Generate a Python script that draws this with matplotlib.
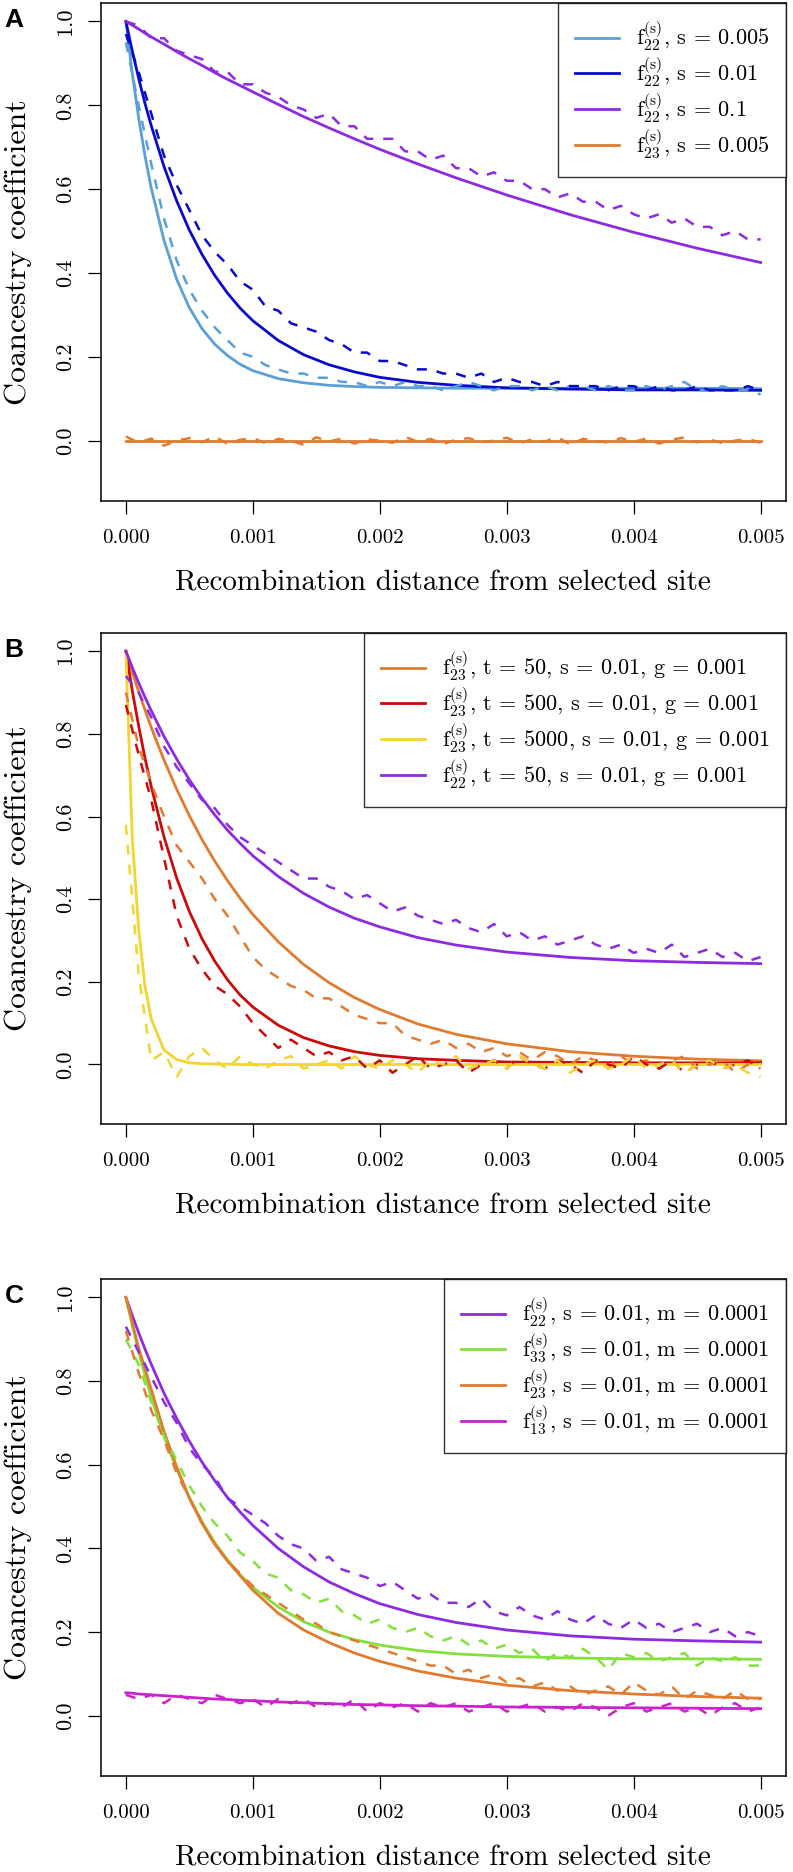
# Coancestry coefficient vs recombination distance, three stacked panels (A, B, C).
# Solid lines: theory, dashed lines: simulations.

import matplotlib
matplotlib.use("Agg")
import matplotlib.pyplot as plt

plt.rcParams['font.family'] = 'serif'
plt.rcParams['font.serif'] = ['cmr10']
plt.rcParams['mathtext.fontset'] = 'cm'
plt.rcParams['axes.formatter.use_mathtext'] = True

# x grid of the theory curves
x_fit = [0.0, 0.00005, 0.0001, 0.00015, 0.0002, 0.0003, 0.0004, 0.0005, 0.0006,
         0.0007, 0.0008, 0.0009, 0.001, 0.0012, 0.0014, 0.0016, 0.0018, 0.002,
         0.0023, 0.0026, 0.003, 0.0035, 0.004, 0.0045, 0.005]

# x grid of the simulation curves
x_sim = [0.0, 0.0001, 0.0002, 0.0003, 0.0004, 0.0005, 0.0006, 0.0007, 0.0008, 0.0009,
         0.001, 0.0011, 0.0012, 0.0013, 0.0014, 0.0015, 0.0016, 0.0017, 0.0018, 0.0019,
         0.002, 0.0021, 0.0022, 0.0023, 0.0024, 0.0025, 0.0026, 0.0027, 0.0028, 0.0029,
         0.003, 0.0031, 0.0032, 0.0033, 0.0034, 0.0035, 0.0036, 0.0037, 0.0038, 0.0039,
         0.004, 0.0041, 0.0042, 0.0043, 0.0044, 0.0045, 0.0046, 0.0047, 0.0048, 0.0049,
         0.005]

# ---- panel A ----
a_labels = [r'$\mathrm{f}_{22}^{(\mathrm{s})}$, s = 0.005',
            r'$\mathrm{f}_{22}^{(\mathrm{s})}$, s = 0.01',
            r'$\mathrm{f}_{22}^{(\mathrm{s})}$, s = 0.1',
            r'$\mathrm{f}_{23}^{(\mathrm{s})}$, s = 0.005']
a_colors = ['#5b9fd8', '#0a0acc', '#8c2be0', '#e07b30']
a_fit = [
    [1.0, .877, .771, .680, .602, .478, .385, .317, .267, .230, .203, .182, .167,
     .148, .138, .132, .129, .127, .126, .125, .125, .125, .125, .125, .124],
    [1.0, .930, .865, .805, .751, .654, .572, .502, .444, .394, .352, .316, .286,
     .239, .205, .181, .164, .151, .139, .132, .126, .123, .121, .121, .120],
    [1.0, .991, .982, .972, .963, .946, .928, .911, .895, .878, .862, .847, .832,
     .802, .773, .746, .720, .695, .660, .627, .586, .539, .497, .459, .425],
    [0.0, 0.0, 0.0, 0.0, 0.0, 0.0, 0.0, 0.0, 0.0, 0.0, 0.0, 0.0, 0.0,
     0.0, 0.0, 0.0, 0.0, 0.0, 0.0, 0.0, 0.0, 0.0, 0.0, 0.0, 0.0],
]
a_sim = [
    [.95, .80, .66, .53, .43, .36, .31, .27, .24, .21, .20, .18, .17, .16, .16, .15, .15,
     .14, .14, .13, .14, .13, .14, .13, .13, .12, .13, .14, .13, .12, .13, .13, .12, .13,
     .12, .13, .13, .12, .13, .12, .12, .13, .12, .13, .14, .12, .12, .13, .12, .12, .11],
    [.97, .88, .78, .68, .61, .55, .49, .45, .42, .38, .36, .32, .31, .28, .27, .26, .24,
     .23, .21, .21, .19, .19, .18, .17, .17, .16, .16, .15, .16, .14, .15, .14, .14, .13,
     .14, .13, .13, .13, .12, .13, .13, .12, .13, .12, .12, .13, .12, .12, .12, .13, .12],
    [1.0, .99, .96, .96, .93, .92, .91, .88, .88, .85, .85, .83, .82, .80, .79, .77, .78,
     .75, .75, .72, .72, .72, .69, .69, .67, .68, .65, .65, .63, .64, .62, .62, .60, .60,
     .58, .59, .57, .57, .55, .56, .54, .53, .54, .52, .53, .51, .51, .49, .50, .48, .48],
    [.01, -.005, .005, -.012, 0.0, .006, -.004, .01, -.008, .002, .006, -.006, .004, 0.0,
     -.01, .008, -.002, .005, -.007, .003, 0.0, -.005, .009, -.003, .004, -.008, .002,
     .006, -.004, 0.0, .007, -.006, .003, -.002, .008, -.009, .004, 0.0, -.005, .006,
     -.003, .005, -.007, .002, .008, -.004, .003, -.006, 0.0, .004, -.005],
]

# ---- panel B ----
b_labels = [r'$\mathrm{f}_{23}^{(\mathrm{s})}$, t = 50, s = 0.01, g = 0.001',
            r'$\mathrm{f}_{23}^{(\mathrm{s})}$, t = 500, s = 0.01, g = 0.001',
            r'$\mathrm{f}_{23}^{(\mathrm{s})}$, t = 5000, s = 0.01, g = 0.001',
            r'$\mathrm{f}_{22}^{(\mathrm{s})}$, t = 50, s = 0.01, g = 0.001']
b_colors = ['#e07b30', '#cc0a0a', '#f2d530', '#8c2be0']
b_fit = [
    [1.0, .950, .903, .858, .815, .737, .666, .602, .544, .492, .445, .402, .363,
     .297, .242, .198, .162, .133, .098, .073, .050, .031, .020, .013, .009],
    [1.0, .905, .820, .742, .672, .551, .451, .370, .304, .250, .205, .168, .139,
     .095, .065, .045, .031, .022, .014, .010, .006, .005, .004, .004, .004],
    [1.0, .55, .33, .19, .11, .035, .012, .004, .002, .001, .001, 0.0, 0.0,
     0.0, 0.0, 0.0, 0.0, 0.0, 0.0, 0.0, 0.0, 0.0, 0.0, 0.0, 0.0],
    [1.0, .961, .924, .889, .856, .794, .739, .689, .644, .604, .567, .535, .505,
     .455, .414, .381, .354, .333, .307, .289, .272, .259, .251, .247, .244],
]
b_sim = [
    [.90, .77, .68, .60, .53, .49, .45, .40, .36, .31, .26, .23, .21, .19, .18, .16, .16,
     .14, .12, .11, .10, .10, .07, .06, .05, .06, .04, .05, .03, .04, .02, .03, .01, .03,
     .02, 0.0, .02, .01, -.01, .02, 0.0, .01, -.01, .01, .02, -.01, 0.0, .01, -.02, 0.0, -.01],
    [.87, .75, .64, .50, .36, .28, .23, .19, .17, .14, .10, .07, .04, .06, .04, .02, .03,
     .01, .02, -.01, .01, -.02, 0.0, .02, -.01, 0.0, .01, -.02, 0.0, .01, -.01, .02, 0.0,
     -.01, .01, 0.0, -.02, .01, 0.0, -.01, .02, 0.0, -.01, .01, -.02, 0.0, .01, -.01, 0.0,
     .01, -.01],
    [.58, .22, .01, .03, -.03, .02, .04, .01, -.01, .02, 0.0, -.01, .01, .02, -.01, 0.0,
     .01, -.01, .02, 0.0, -.01, .01, 0.0, -.02, .01, 0.0, .02, -.01, 0.0, .01, -.01, .02,
     0.0, -.01, .01, -.02, 0.0, .01, -.01, 0.0, .02, -.01, 0.0, .01, -.02, 0.0, .01, -.01,
     0.0, -.02, -.03],
    [.94, .90, .84, .77, .72, .68, .64, .62, .58, .55, .53, .51, .49, .47, .45, .45, .43,
     .42, .40, .41, .39, .37, .38, .36, .35, .34, .35, .33, .32, .34, .31, .32, .30, .31,
     .29, .30, .31, .29, .28, .29, .27, .28, .27, .29, .26, .27, .28, .26, .27, .25, .26],
]

# ---- panel C ----
c_labels = [r'$\mathrm{f}_{22}^{(\mathrm{s})}$, s = 0.01, m = 0.0001',
            r'$\mathrm{f}_{33}^{(\mathrm{s})}$, s = 0.01, m = 0.0001',
            r'$\mathrm{f}_{23}^{(\mathrm{s})}$, s = 0.01, m = 0.0001',
            r'$\mathrm{f}_{13}^{(\mathrm{s})}$, s = 0.01, m = 0.0001']
c_colors = ['#8c2be0', '#84e03a', '#e07b30', '#cc22cc']
c_fit = [
    [1.0, .957, .916, .877, .840, .771, .711, .656, .606, .562, .522, .487, .455,
     .400, .356, .320, .292, .268, .242, .223, .205, .191, .183, .179, .176],
    [1.0, .933, .871, .814, .761, .668, .589, .522, .464, .414, .373, .337, .307,
     .260, .225, .200, .182, .169, .156, .148, .142, .138, .136, .136, .135],
    [1.0, .94, .88, .83, .78, .68, .595, .52, .46, .41, .37, .335, .30,
     .245, .205, .175, .15, .13, .107, .09, .073, .06, .052, .046, .042],
    [.055, .054, .052, .051, .050, .048, .046, .044, .042, .040, .039, .037, .036,
     .033, .031, .029, .027, .026, .024, .023, .021, .020, .019, .018, .017],
]
c_sim = [
    [.93, .87, .81, .75, .70, .64, .60, .57, .52, .50, .48, .46, .43, .41, .40, .37, .38,
     .35, .34, .33, .31, .32, .30, .28, .29, .27, .27, .26, .28, .25, .24, .26, .24, .23,
     .25, .23, .22, .24, .22, .21, .23, .21, .22, .20, .21, .22, .20, .21, .19, .20, .19],
    [.90, .84, .75, .67, .61, .55, .50, .46, .43, .39, .37, .34, .33, .30, .29, .27, .28,
     .25, .24, .22, .23, .21, .20, .21, .19, .18, .19, .17, .18, .16, .17, .15, .16, .13,
     .15, .14, .16, .14, .11, .15, .14, .15, .13, .14, .15, .12, .14, .13, .14, .12, .12],
    [.92, .82, .73, .66, .58, .52, .46, .41, .37, .34, .31, .29, .27, .25, .23, .22, .20,
     .19, .18, .17, .16, .15, .14, .13, .12, .12, .10, .11, .09, .10, .08, .09, .07, .08,
     .06, .07, .05, .06, .07, .05, .08, .06, .05, .07, .04, .06, .05, .04, .06, .04, .04],
    [.05, .04, .05, .03, .05, .04, .03, .05, .04, .03, .04, .02, .04, .03, .04, .02, .03,
     .02, .04, .01, .03, .02, .03, .01, .03, .02, .03, .01, .02, .03, .01, .02, .03, .01,
     .02, .01, .03, .02, 0.0, .02, .03, .01, .02, .03, .01, .02, 0.0, .02, .03, .01, .02],
]

xticks = [0.0, 0.001, 0.002, 0.003, 0.004, 0.005]
xtick_labels = ['0.000', '0.001', '0.002', '0.003', '0.004', '0.005']
yticks = [0.0, 0.2, 0.4, 0.6, 0.8, 1.0]
ytick_labels = ['0.0', '0.2', '0.4', '0.6', '0.8', '1.0']

W, H = 793, 1872
fig = plt.figure(figsize=(W / 100, H / 100), dpi=100)

# axes boxes in pixels: (top, bottom)
boxes = [(3, 501), (633, 1124), (1279, 1776)]
left_px, right_px = 100.5, 786

panels = [('A', a_fit, a_sim, a_colors, a_labels),
          ('B', b_fit, b_sim, b_colors, b_labels),
          ('C', c_fit, c_sim, c_colors, c_labels)]

for (top, bot), (letter, fits, sims, colors, labels) in zip(boxes, panels):
    ax = fig.add_axes([left_px / W, 1 - bot / H, (right_px - left_px) / W, (bot - top) / H])
    for f, c, lab in zip(fits, colors, labels):
        ax.plot(x_fit, f, color=c, lw=2.0, label=lab)
    for s, c in zip(sims, colors):
        ax.plot(x_sim, s, color=c, lw=1.8, dashes=(4, 4))

    ax.set_xlim(-0.0002, 0.0052)
    ax.set_ylim(-0.144, 1.044)
    ax.set_xticks(xticks)
    ax.set_xticklabels(xtick_labels)
    ax.set_yticks(yticks)
    ax.set_yticklabels(ytick_labels, rotation=90, va='center')
    ax.tick_params(axis='both', direction='out', length=9.5, width=0.9, labelsize=15)
    ax.tick_params(axis='x', pad=11)
    ax.tick_params(axis='y', pad=9, labelsize=16)
    for sp in ax.spines.values():
        sp.set_linewidth(1.1)

    ax.set_xlabel('Recombination distance from selected site', fontsize=21, va='center')
    ax.xaxis.set_label_coords(0.5, -82 / (bot - top))
    ax.set_ylabel('Coancestry coefficient', fontsize=23, va='center')
    ax.yaxis.set_label_coords((18 - left_px) / (right_px - left_px), 0.5)

    leg = ax.legend(loc='upper right', borderaxespad=0, fancybox=False,
                    edgecolor='black', fontsize=16, handlelength=2.0,
                    handletextpad=0.75, labelspacing=0.1, borderpad=0.75)
    leg.get_frame().set_linewidth(1.0)

    fig.text(14 / W, 1 - (top + 17) / H, letter, family=['Liberation Sans', 'DejaVu Sans'],
             weight='bold', fontsize=19, ha='center', va='center')

fig.savefig('out.png', dpi=100)
